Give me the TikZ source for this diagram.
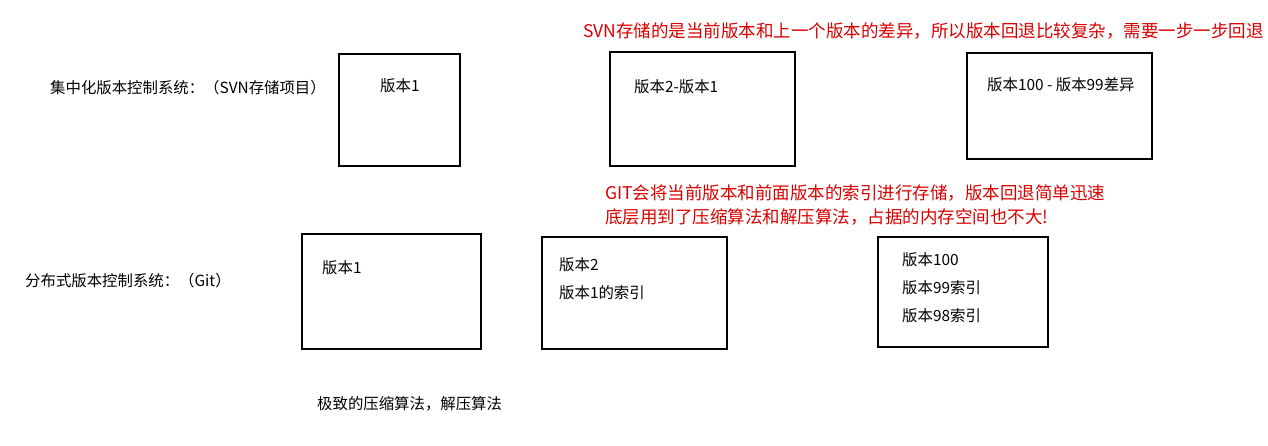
\documentclass[tikz,border=0pt]{standalone}
\usepackage{fontspec}
\setmainfont{Noto Sans CJK SC}
\usetikzlibrary{positioning}

\tikzset{
  verbox/.style={draw=black, line width=1.8pt, inner sep=0pt, anchor=north west},
  txt/.style={anchor=west, inner sep=0pt, font=\fontsize{15.4}{28}\selectfont, align=left},
  note/.style={anchor=west, inner sep=0pt, text=red!85!black, font=\fontsize{17.5}{24}\selectfont, align=left}
}

\begin{document}
\begin{tikzpicture}[x=1pt, y=-1pt]
\useasboundingbox (0,0) rectangle (1268,445);

% centralised (SVN)
\node[txt] (svn) at (50,88) {集中化版本控制系统：（SVN存储项目）};
\node[verbox, minimum width=121pt, minimum height=112pt] (s1) at (338,53) {};
\node[verbox, minimum width=185pt, minimum height=114pt] (s2) at (609,51) {};
\node[verbox, minimum width=185pt, minimum height=106pt] (s3) at (966,52) {};
\node[txt] (s1t) at (380,86) {版本1};
\node[txt] (s2t) at (634,87) {版本2-版本1};
\node[txt] (s3t) at (987,85) {版本100 - 版本99差异};
\node[note] (svnnote) at (583,31) {SVN存储的是当前版本和上一个版本的差异，所以版本回退比较复杂，需要一步一步回退};

% distributed (Git)
\node[note] (gitnote) at (605,205) {GIT会将当前版本和前面版本的索引进行存储，版本回退简单迅速\\底层用到了压缩算法和解压算法，占据的内存空间也不大!};
\node[txt] (git) at (25,281) {分布式版本控制系统：（Git）};
\node[verbox, minimum width=179pt, minimum height=115pt] (g1) at (301,233) {};
\node[verbox, minimum width=185pt, minimum height=112pt] (g2) at (541,236) {};
\node[verbox, minimum width=170pt, minimum height=110pt] (g3) at (877,236) {};
\node[txt] (g1t) at (322,268) {版本1};
\node[txt] (g2t) at (559,278.5) {版本2\\版本1的索引};
\node[txt] (g3t) at (902,288) {版本100\\版本99索引\\版本98索引};
\node[txt] (zip) at (317,404) {极致的压缩算法，解压算法};
\end{tikzpicture}
\end{document}
